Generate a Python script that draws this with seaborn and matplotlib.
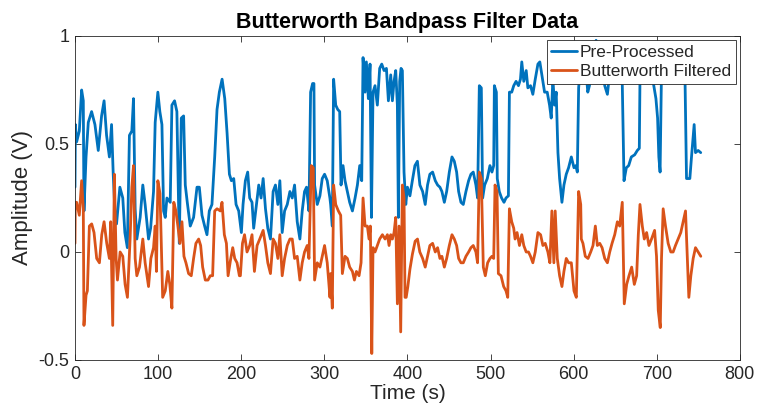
import matplotlib
matplotlib.use("Agg")
import matplotlib.pyplot as plt
import pandas as pd
import seaborn as sns

# Raw (pre-processed) signal: time in seconds, amplitude in volts
t_pre = [0.0, 0.5, 2.0, 5.2, 8.0, 10.0, 10.8, 13.3, 16.0, 20.0, 24.0, 28.0, 32.0, 35.0, 38.0,
         41.4, 44.0, 46.0, 48.0, 50.0, 54.0, 57.5, 60.0, 63.0, 65.5, 68.4, 70.4, 72.4, 74.4,
         78.4, 81.6, 84.4, 88.5, 91.0, 94.5, 96.5, 99.7, 102.1, 104.6, 106.6, 108.6, 110.6,
         114.6, 116.6, 119.8, 122.6, 125.5, 127.9, 130.7, 132.7, 135.1, 138.7, 142.7, 146.8,
         149.6, 152.8, 156.0, 158.8, 161.6, 164.8, 168.1, 170.9, 173.7, 177.0, 180.2, 183.0,
         185.8, 188.2, 191.0, 193.8, 197.0, 200.2, 202.2, 205.0, 207.8, 210.2, 213.0, 215.0,
         218.3, 221.1, 223.9, 226.4, 229.2, 232.0, 235.2, 238.4, 241.2, 244.1, 246.5, 249.3,
         252.2, 255.4, 258.6, 261.4, 264.2, 267.4, 270.6, 273.4, 276.2, 278.6, 281.5, 283.5,
         285.9, 287.5, 288.3, 291.5, 294.7, 297.5, 300.3, 303.5, 306.7, 307.6, 309.6, 311.2,
         313.7, 316.1, 318.5, 320.1, 322.5, 324.9, 327.7, 330.5, 333.8, 337.0, 339.8, 342.6,
         345.0, 346.6, 349.0, 350.6, 353.0, 355.0, 356.7, 358.6, 361.0, 363.8, 366.6, 369.1,
         371.9, 374.7, 377.1, 379.9, 381.9, 383.9, 385.9, 387.9, 389.1, 390.7, 392.3, 393.9,
         395.9, 398.0, 400.0, 403.0, 405.9, 409.0, 412.0, 415.0, 418.3, 421.4, 424.2, 427.0,
         430.3, 433.5, 436.3, 439.1, 441.5, 444.4, 447.2, 450.4, 453.6, 456.4, 459.2, 461.6,
         464.4, 467.2, 470.4, 473.6, 476.4, 479.2, 482.4, 484.4, 486.5, 488.9, 490.5, 492.9,
         496.1, 499.3, 501.7, 503.8, 504.6, 507.0, 508.1, 510.5, 513.3, 516.2, 518.6, 521.5,
         522.7, 525.5, 527.9, 530.7, 533.6, 536.0, 537.6, 540.0, 542.9, 544.9, 548.1, 550.9,
         553.8, 557.0, 559.3, 561.8, 565.0, 568.2, 571.0, 573.0, 575.0, 577.0, 579.0, 581.1,
         583.1, 585.9, 588.3, 591.1, 593.9, 597.2, 600.4, 602.7, 604.4, 606.0, 608.0, 611.0,
         614.0, 617.0, 619.0, 622.0, 625.0, 627.0, 629.0, 632.0, 635.0, 637.4, 640.6, 644.0,
         648.0, 652.0, 656.0, 658.5, 660.6, 663.4, 666.2, 669.4, 673.4, 676.6, 679.0, 679.8,
         682.0, 688.0, 692.0, 696.0, 699.0, 701.0, 702.5, 704.0, 705.7, 710.0, 716.0, 722.0,
         728.0, 734.0, 735.8, 739.8, 741.8, 745.0, 746.6, 749.8, 752.9]
v_pre = [0.30, 0.59, 0.51, 0.56, 0.75, 0.70, 0.19, 0.44, 0.60, 0.65, 0.59, 0.47, 0.63, 0.70, 0.54,
         0.44, 0.59, 0.36, 0.19, 0.13, 0.30, 0.25, 0.09, 0.02, 0.54, 0.56, 0.71, 0.20, 0.06,
         0.16, 0.31, 0.22, 0.06, 0.11, 0.28, 0.60, 0.74, 0.65, 0.59, 0.19, 0.16, 0.25,
         0.23, 0.68, 0.70, 0.65, 0.04, 0.62, 0.63, 0.31, 0.23, 0.12, 0.16, 0.30,
         0.30, 0.17, 0.12, 0.08, 0.19, 0.22, 0.44, 0.66, 0.74, 0.80, 0.71, 0.55,
         0.36, 0.33, 0.34, 0.22, 0.19, 0.09, 0.22, 0.33, 0.37, 0.25, 0.23, 0.11,
         0.22, 0.31, 0.25, 0.34, 0.20, 0.11, 0.06, 0.28, 0.31, 0.22, 0.33, 0.09,
         0.19, 0.22, 0.28, 0.25, 0.31, 0.14, 0.06, 0.19, 0.28, 0.30, 0.19, 0.74,
         0.78, 0.78, 0.31, 0.22, 0.26, 0.34, 0.36, 0.33, 0.25, 0.22, 0.12, 0.80,
         0.68, 0.66, 0.65, 0.31, 0.40, 0.33, 0.28, 0.23, 0.19, 0.25, 0.31, 0.40,
         0.33, 0.90, 0.74, 0.88, 0.71, 0.87, 0.16, 0.74, 0.77, 0.68, 0.85, 0.87,
         0.84, 0.85, 0.70, 0.82, 0.70, 0.79, 0.84, 0.68, 0.16, 0.79, 0.85, 0.84,
         0.37, 0.22, 0.30, 0.26, 0.33, 0.40, 0.42, 0.31, 0.28, 0.22, 0.31, 0.36,
         0.37, 0.33, 0.31, 0.30, 0.28, 0.23, 0.28, 0.37, 0.44, 0.42, 0.37, 0.28,
         0.23, 0.22, 0.28, 0.33, 0.36, 0.37, 0.31, 0.25, 0.77, 0.76, 0.25, 0.31,
         0.34, 0.40, 0.37, 0.40, 0.77, 0.74, 0.34, 0.28, 0.25, 0.23, 0.25, 0.26,
         0.74, 0.74, 0.77, 0.79, 0.77, 0.80, 0.88, 0.79, 0.84, 0.76, 0.77, 0.73,
         0.80, 0.87, 0.88, 0.82, 0.74, 0.74, 0.68, 0.62, 0.80, 0.68, 0.74, 0.46,
         0.34, 0.23, 0.31, 0.36, 0.39, 0.44, 0.39, 0.40, 0.37, 0.76, 0.85, 0.80,
         0.88, 0.74, 0.77, 0.86, 0.92, 0.98, 0.88, 0.84, 0.86, 0.77, 0.73, 0.85,
         0.82, 0.87, 0.83, 0.78, 0.33, 0.39, 0.40, 0.44, 0.45, 0.47, 0.48, 0.80,
         0.85, 0.82, 0.84, 0.78, 0.71, 0.62, 0.44, 0.37, 0.84, 0.88, 0.84, 0.86,
         0.83, 0.80, 0.34, 0.34, 0.44, 0.59, 0.46, 0.47, 0.46]

# Butterworth band-pass output
t_filt = [0.0, 0.4, 2.0, 5.2, 8.0, 10.0, 10.8, 13.3, 14.9, 17.3, 20.1, 22.9, 26.1, 29.4, 32.2,
          35.0, 38.2, 41.4, 43.0, 45.4, 47.4, 49.5, 51.1, 54.3, 57.5, 60.3, 63.1, 66.3, 68.4,
          70.4, 72.4, 74.4, 77.6, 81.6, 84.4, 88.5, 91.3, 94.5, 96.5, 98.0, 99.7, 102.3,
          105.5, 108.6, 111.7, 114.1, 116.6, 118.9, 121.4, 123.8, 126.3, 128.7, 131.1, 133.5,
          136.7, 139.9, 142.7, 145.5, 148.8, 151.2, 153.6, 156.8, 160.0, 162.8, 165.6, 168.1,
          170.9, 174.9, 176.9, 179.7, 182.2, 184.2, 187.0, 189.8, 192.2, 195.0, 197.8, 199.0,
          201.5, 204.0, 207.0, 210.2, 213.0, 215.9, 219.1, 222.3, 226.4, 229.2, 232.0, 235.2,
          238.4, 241.2, 244.1, 246.5, 249.3, 252.2, 255.4, 258.6, 261.4, 264.2, 267.4, 270.6,
          273.4, 276.2, 279.4, 281.5, 284.3, 286.7, 288.3, 291.5, 294.7, 297.5, 300.3, 303.5,
          306.8, 307.6, 309.6, 311.2, 313.7, 316.9, 319.7, 321.7, 324.9, 327.7, 330.5, 333.8,
          336.2, 338.6, 341.8, 344.2, 346.6, 349.0, 351.8, 353.8, 355.4, 357.1, 358.6, 361.0,
          363.8, 366.6, 369.9, 373.1, 375.9, 377.9, 379.9, 381.9, 383.9, 385.9, 387.9, 389.9,
          391.9, 393.9, 395.9, 397.1, 398.5, 400.5, 403.0, 406.0, 409.3, 412.1, 414.9, 418.3,
          421.4, 424.2, 427.0, 430.3, 433.5, 436.3, 439.1, 441.5, 444.4, 447.2, 450.4, 453.6,
          456.4, 459.2, 461.6, 464.4, 467.2, 470.4, 473.6, 476.4, 479.2, 482.4, 484.4, 486.5,
          488.9, 491.3, 493.7, 496.5, 499.3, 501.7, 503.8, 505.4, 507.8, 509.4, 512.6, 515.8,
          518.6, 520.7, 522.7, 525.5, 527.9, 529.5, 531.9, 534.8, 537.6, 540.0, 542.9, 545.7,
          548.1, 550.9, 553.8, 557.0, 560.2, 563.0, 565.8, 569.0, 571.4, 573.8, 576.2, 577.8,
          580.3, 583.1, 585.9, 588.3, 591.1, 593.9, 597.2, 600.4, 603.2, 606.0, 608.5, 609.2,
          611.2, 614.0, 617.3, 620.5, 623.3, 626.1, 628.5, 631.4, 634.2, 637.4, 640.6, 643.4,
          646.2, 649.4, 652.6, 655.4, 658.5, 660.9, 663.8, 666.6, 669.8, 673.0, 675.8, 677.8,
          679.8, 682.6, 685.0, 687.8, 690.6, 693.7, 697.4, 699.7, 701.8, 704.2, 705.7, 707.7,
          710.5, 713.7, 716.9, 719.7, 722.5, 725.7, 728.9, 731.7, 734.6, 737.0, 738.6, 741.0,
          743.8, 746.6, 749.8, 753.0]
v_filt = [0.04, 0.23, 0.23, 0.17, 0.33, 0.20, -0.34, -0.20, -0.18, 0.12, 0.13, 0.09, -0.03, -0.05, 0.08,
          0.14, 0.04, -0.03, 0.14, -0.34, 0.36, -0.03, -0.13, 0.00, -0.02, -0.15, -0.21, 0.06, 0.30,
          0.40, -0.03, -0.11, -0.07, 0.06, -0.05, -0.16, -0.03, 0.02, 0.12, -0.09, 0.33, 0.27,
          -0.21, -0.18, -0.09, -0.15, -0.26, 0.23, 0.19, 0.12, 0.04, 0.14, -0.02, -0.05,
          -0.10, -0.11, -0.03, 0.04, 0.06, 0.03, -0.07, -0.13, -0.13, -0.11, -0.11, 0.19,
          0.20, 0.19, 0.23, 0.08, 0.04, -0.11, -0.04, 0.02, -0.03, -0.05, -0.11, -0.11,
          0.04, 0.08, 0.00, 0.03, 0.08, -0.09, 0.03, 0.06, 0.10, 0.03, -0.05, -0.10,
          0.06, 0.04, -0.03, 0.08, -0.11, -0.03, 0.03, 0.06, 0.06, -0.03, -0.02, -0.13,
          -0.05, 0.00, 0.03, -0.03, 0.40, 0.39, -0.13, -0.05, -0.07, -0.02, 0.03, -0.05,
          -0.21, -0.10, -0.26, 0.31, 0.22, 0.19, 0.17, -0.10, -0.02, -0.03, -0.07, -0.09,
          -0.13, -0.09, -0.11, -0.05, 0.25, 0.12, 0.12, 0.06, 0.12, -0.47, 0.02, 0.00,
          0.03, 0.06, 0.08, 0.06, 0.08, 0.03, 0.08, 0.06, 0.09, 0.16, -0.24, 0.12,
          -0.37, 0.31, 0.25, -0.21, -0.21, -0.16, -0.08, -0.01, 0.05, 0.06, 0.00, -0.03,
          -0.07, -0.02, 0.03, 0.04, 0.00, 0.02, -0.03, -0.02, -0.07, -0.03, 0.03, 0.08,
          0.06, 0.03, -0.03, -0.05, -0.05, -0.02, 0.00, 0.02, 0.03, 0.00, -0.05, 0.37,
          0.34, -0.07, -0.11, -0.05, -0.03, -0.02, -0.03, 0.31, 0.28, -0.10, -0.11, -0.16,
          -0.18, -0.21, 0.20, 0.14, 0.11, 0.06, 0.09, 0.03, 0.08, 0.03, 0.00, 0.00,
          -0.02, -0.05, 0.00, 0.09, 0.08, 0.03, 0.04, 0.00, -0.05, 0.19, -0.05, 0.19,
          -0.03, -0.11, -0.16, -0.09, -0.03, -0.05, -0.05, -0.18, -0.21, 0.28, 0.22, 0.06,
          0.04, -0.02, -0.03, 0.00, 0.03, 0.12, 0.03, 0.04, 0.02, -0.03, -0.05, 0.00,
          0.04, 0.08, 0.14, 0.12, 0.23, -0.24, -0.15, -0.11, -0.07, -0.15, -0.11, 0.08,
          0.22, 0.12, 0.06, 0.09, 0.03, 0.06, 0.10, -0.02, -0.27, -0.35, -0.03, 0.20,
          0.12, 0.04, 0.00, 0.00, 0.03, 0.06, 0.09, 0.14, 0.19, -0.05, -0.21, -0.11,
          -0.03, 0.02, 0.00, -0.02]

x_ticks = [0, 100, 200, 300, 400, 500, 600, 700, 800]
y_ticks = [-0.5, 0, 0.5, 1]
y_tick_labels = ["-0.5", "0", "0.5", "1"]

pre_df = pd.DataFrame({"Time": t_pre, "Amplitude": v_pre})
filt_df = pd.DataFrame({"Time": t_filt, "Amplitude": v_filt})

sns.set_theme(style="white")
plt.rcParams["font.family"] = ["Liberation Sans", "DejaVu Sans"]

fig = plt.figure(figsize=(7.59, 4.2), dpi=100)
ax = fig.add_axes([0.0988, 0.1429, 0.876, 0.7714])

blue = "#0072BD"
orange = "#D95319"
sns.lineplot(data=pre_df, x="Time", y="Amplitude", ax=ax, color=blue, lw=2.0,
             estimator=None, sort=False, label="Pre-Processed")
sns.lineplot(data=filt_df, x="Time", y="Amplitude", ax=ax, color=orange, lw=2.0,
             estimator=None, sort=False, label="Butterworth Filtered")

ax.set_xlim(0, 800)
ax.set_ylim(-0.5, 1)
ax.set_xticks(x_ticks)
ax.set_yticks(y_ticks)
ax.set_yticklabels(y_tick_labels)

axis_col = "#262626"
for side in ax.spines.values():
    side.set_color(axis_col)
    side.set_linewidth(0.6)
ax.tick_params(direction="in", length=4, width=0.6, colors=axis_col, labelsize=13,
               top=True, right=True, bottom=True, left=True, labelcolor="#262626", pad=4)

ax.set_xlabel("Time (s)", fontsize=15, color="#262626", labelpad=1)
ax.set_ylabel("Amplitude (V)", fontsize=16, color="#262626", labelpad=4)
ax.set_title("Butterworth Bandpass Filter Data", fontsize=15.5, fontweight="bold",
             color="black", pad=6)

leg = ax.legend(loc="upper right", fontsize=12.5, frameon=True, fancybox=False,
                borderaxespad=0.25, handlelength=1.45, handletextpad=0.2,
                borderpad=0.25, labelspacing=0.25)
leg.get_frame().set_edgecolor(axis_col)
leg.get_frame().set_linewidth(0.6)
leg.get_frame().set_alpha(1)

fig.savefig("out.png", dpi=100)
